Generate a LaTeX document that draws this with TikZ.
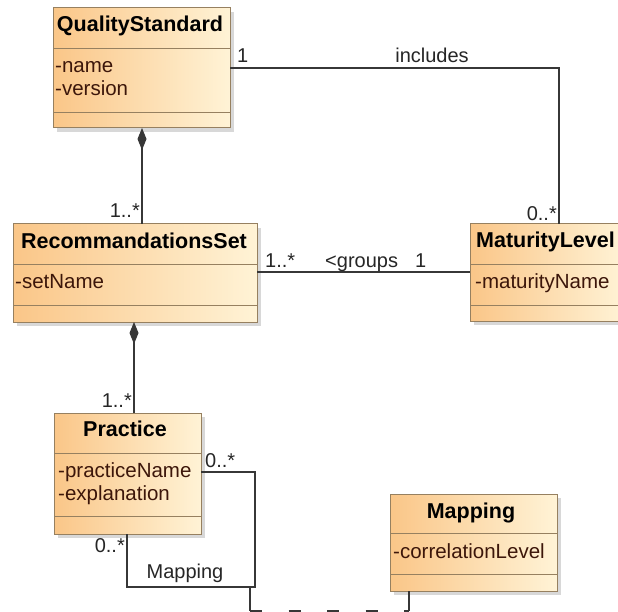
\documentclass[tikz,border=0pt]{standalone}
\usepackage{fontspec}
\setmainfont{Liberation Sans}
\usetikzlibrary{arrows.meta,shadows}
\definecolor{boxL}{RGB}{250,198,136}
\definecolor{boxR}{RGB}{255,243,214}
\definecolor{boxBorder}{RGB}{150,128,96}
\definecolor{attrCol}{RGB}{60,22,10}
\definecolor{lineCol}{RGB}{55,55,55}
\tikzset{
  umlbox/.style={rectangle, draw=boxBorder, line width=1pt, left color=boxL, right color=boxR,
    inner sep=0pt, outer sep=0pt, anchor=north west,
    drop shadow={shadow xshift=4pt,shadow yshift=-4pt,fill=black!30}},
  sepline/.style={draw=boxBorder, line width=1pt},
  ttl/.style={font=\fontsize{21.5}{23}\selectfont\bfseries, inner sep=0pt, anchor=base},
  attr/.style={font=\fontsize{20.5}{22}\selectfont, text=attrCol, anchor=base west, inner sep=0pt},
  conn/.style={draw=lineCol, line width=1.2pt},
  lbl/.style={font=\fontsize{20}{22}\selectfont, text=black!85, inner sep=0pt},
  comp/.style={conn, {Diamond[length=22pt,width=9pt]}-},
  assocdash/.style={conn, dash pattern=on 12pt off 26.5pt}
}
\begin{document}
\begin{tikzpicture}[x=1pt,y=-1pt]
\useasboundingbox (0,0) rectangle (618,612);
\clip (0,0) rectangle (618,612);
\fill[white] (0,0) rectangle (618,612);

% QualityStandard
\node[umlbox, minimum width=177pt, minimum height=120pt] (qs) at (53,8) {};
\draw[sepline] (qs.west |- 0,49) -- (qs.east |- 0,49);
\draw[sepline] (qs.west |- 0,113) -- (qs.east |- 0,113);
\node[ttl] (qsT) at (140,32) {QualityStandard};
\node[attr] (qsA1) at (55,73) {-name};
\node[attr] (qsA2) at (55,96) {-version};

% RecommandationsSet
\node[umlbox, minimum width=244pt, minimum height=98pt] (rs) at (13,224) {};
\draw[sepline] (rs.west |- 0,265) -- (rs.east |- 0,265);
\draw[sepline] (rs.west |- 0,305) -- (rs.east |- 0,305);
\node[ttl] (rsT) at (134,249) {RecommandationsSet};
\node[attr] (rsA1) at (15,288) {-setName};

% MaturityLevel
\node[umlbox, minimum width=154pt, minimum height=97pt] (ml) at (470,224) {};
\draw[sepline] (ml.west |- 0,265) -- (ml.east |- 0,265);
\draw[sepline] (ml.west |- 0,305) -- (ml.east |- 0,305);
\node[ttl, anchor=base west] (mlT) at (476,248) {MaturityLevel};
\node[attr] (mlA1) at (475,288) {-maturityName};

% Practice
\node[umlbox, minimum width=147pt, minimum height=121pt] (pr) at (54,413) {};
\draw[sepline] (pr.west |- 0,453) -- (pr.east |- 0,453);
\draw[sepline] (pr.west |- 0,516) -- (pr.east |- 0,516);
\node[ttl] (prT) at (125,436) {Practice};
\node[attr] (prA1) at (58,477) {-practiceName};
\node[attr] (prA2) at (58,500) {-explanation};

% Mapping
\node[umlbox, minimum width=167pt, minimum height=97pt] (mp) at (390,494) {};
\draw[sepline] (mp.west |- 0,533) -- (mp.east |- 0,533);
\draw[sepline] (mp.west |- 0,574) -- (mp.east |- 0,574);
\node[ttl] (mpT) at (471,518) {Mapping};
\node[attr] (mpA1) at (393,558) {-correlationLevel};

% includes
\draw[conn] (qs.east |- 0,68) -| (ml.north -| 559,0);
\node[lbl, anchor=base west] (l1) at (237,63) {1};
\node[lbl, anchor=base] (l2) at (432,63) {includes};
\node[lbl, anchor=base east] (l3) at (557,221) {0..*};

% composition QS - RS
\draw[comp] (qs.south -| 142,0) -- (rs.north -| 142,0);
\node[lbl, anchor=base east] (l4) at (140,218) {1..*};

% groups
\draw[conn] (rs.east |- 0,272) -- (ml.west |- 0,272);
\node[lbl, anchor=base west] (l5) at (265,267) {1..*};
\node[lbl, anchor=base west] (l6) at (325,267) {<groups};
\node[lbl, anchor=base west] (l7) at (415,267) {1};

% composition RS - Practice
\draw[comp] (rs.south -| 134,0) -- (pr.north -| 134,0);
\node[lbl, anchor=base east] (l8) at (132,407) {1..*};

% Mapping association (reflexive)
\coordinate (mA) at (255,587);
\draw[conn] (pr.east |- 0,472) -| (mA) -| (pr.south -| 127,0);
\node[lbl, anchor=base west] (l9) at (205,467) {0..*};
\node[lbl, anchor=base east] (l10) at (125,552) {0..*};
\node[lbl, anchor=base] (l11) at (185,578) {Mapping};

% association class link
\coordinate (mD) at (250,587);
\coordinate (dL) at (250,611);
\coordinate (dR) at (409,611);
\draw[conn] (mD) -- (dL);
\draw[assocdash] (dL) -- (dR);
\draw[conn] (dR) -- (mp.south -| 409,0);
\end{tikzpicture}
\end{document}
